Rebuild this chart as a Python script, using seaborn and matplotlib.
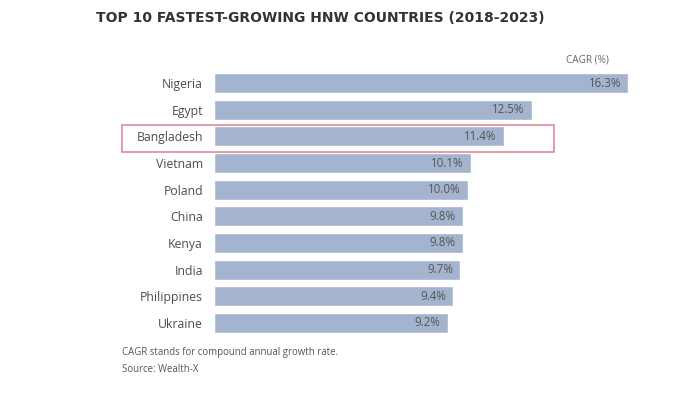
import matplotlib
matplotlib.use("Agg")
import matplotlib.pyplot as plt
import seaborn as sns
import pandas as pd
from matplotlib.patches import Rectangle

countries = ["Nigeria", "Egypt", "Bangladesh", "Vietnam", "Poland", "China",
             "Kenya", "India", "Philippines", "Ukraine"]
cagr = [16.3, 12.5, 11.4, 10.1, 10.0, 9.8, 9.8, 9.7, 9.4, 9.2]
highlight = "Bangladesh"

df = pd.DataFrame({"country": countries, "cagr": cagr})

sns.set_style("white")
plt.rcParams["font.family"] = ["Open Sans", "DejaVu Sans"]

W, H = 700, 394
fig = plt.figure(figsize=(7.0, 3.94), dpi=100)
x0 = 214
px_per_unit = 25.4
xmax = 17.0
ax_top, ax_bot = 69.7, 336.3
ax = fig.add_axes([x0 / W, (H - ax_bot) / H, xmax * px_per_unit / W, (ax_bot - ax_top) / H])

bar_color = "#a4b4cf"
sns.barplot(data=df, y="country", x="cagr", orient="h", color=bar_color,
            width=0.76, saturation=1, ax=ax)

ax.set_xlim(0, xmax)
ax.set_ylim(9.5, -0.5)
ax.set_xlabel("")
ax.set_ylabel("")
ax.set_xticks([])
ax.tick_params(axis="y", length=0, pad=8, labelsize=8.8, labelcolor="#4d4d4d")
for s in ax.spines.values():
    s.set_visible(False)

for i, v in enumerate(cagr):
    ax.annotate(f"{v:.1f}%", xy=(v, i), xytext=(-5, 0), textcoords="offset points",
                ha="right", va="center", fontsize=8.3, color="#555555")

hi = countries.index(highlight)
rect = Rectangle((122 / W, 1 - 152 / H), (554 - 122) / W, 27 / H, fill=False,
                 edgecolor="#e08a97", linewidth=1.2, transform=fig.transFigure,
                 zorder=5)
fig.patches.append(rect)

fig.text(609 / W, 1 - 60 / H, "CAGR (%)", ha="right", va="center",
         fontsize=7.2, color="#666666")
fig.text(96 / W, 1 - 18 / H, "TOP 10 FASTEST-GROWING HNW COUNTRIES (2018-2023)",
         ha="left", va="center", fontsize=10, fontweight="bold", color="#333333",
         family=["DejaVu Sans"])
fig.text(122 / W, 1 - 353 / H, "CAGR stands for compound annual growth rate.",
         ha="left", va="center", fontsize=6.9, color="#555555")
fig.text(122 / W, 1 - 370 / H, "Source: Wealth-X",
         ha="left", va="center", fontsize=6.9, color="#555555")

fig.savefig("out.png", dpi=100, facecolor="white")
